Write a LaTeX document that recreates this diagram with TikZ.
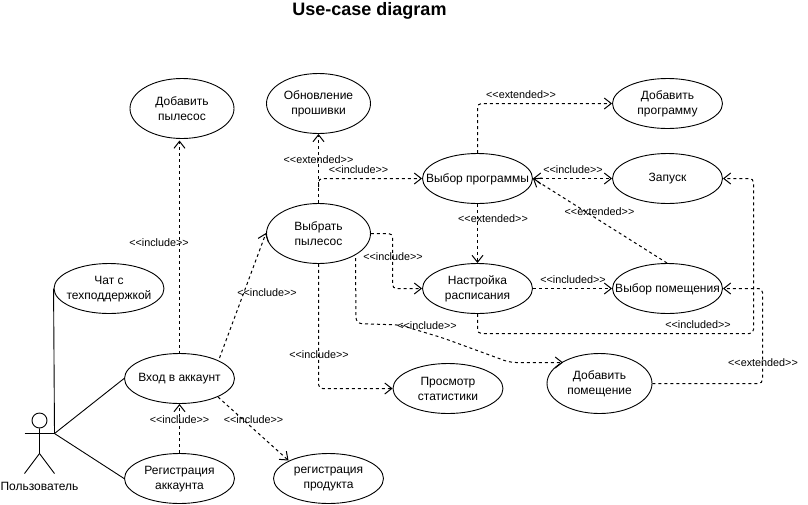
\documentclass[tikz,border=0pt]{standalone}
\usepackage{fontspec}
\setmainfont{Liberation Sans}
\usetikzlibrary{arrows.meta,shapes.geometric}
\tikzset{
  usecase/.style={draw,ellipse,inner sep=0pt,line width=0.9pt},
  uctext/.style={inner sep=0pt,align=center,font=\fontsize{12}{15}\selectfont,yshift=-0.5pt},
  dep/.style={draw,dash pattern=on 3pt off 3pt,line width=1pt,rounded corners=4pt,-{Straight Barb[length=7pt,width=11pt]}},
  depboth/.style={dep,{Straight Barb[length=7pt,width=11pt]}-{Straight Barb[length=7pt,width=11pt]}},
  assoc/.style={draw,line width=0.9pt},
  lbl/.style={font=\fontsize{10.8}{12}\selectfont,inner sep=0pt,yshift=-0.7pt},
}
\newcommand{\uc}[6]{%
  \node[usecase,minimum width=#4pt,minimum height=#5pt] (#1) at (#2,#3) {};
  \node[uctext] (#1t) at (#2,#3) {#6};}
\newcommand{\inc}{<{}<include>{}>}
\newcommand{\ext}{<{}<extended>{}>}
\newcommand{\incd}{<{}<included>{}>}
\begin{document}
\begin{tikzpicture}[x=1pt,y=-1pt]
\useasboundingbox (0,0) rectangle (808,504);
\fill[white] (0,0) rectangle (808,504);
\node[font=\fontsize{18}{20}\selectfont\bfseries] (title) at (369.5,11) {Use-case diagram};
\uc{add}{182}{108.5}{104}{60}{Добавить\\пылесос}
\uc{fw}{318.5}{103.5}{104}{60}{Обновление\\прошивки}
\uc{sel}{318.5}{233.5}{104}{60}{Выбрать\\пылесос}
\uc{prog}{477.5}{178.5}{110}{50}{Выбор программы}
\uc{sched}{477.5}{288.5}{110}{50}{Настройка\\расписания}
\uc{addp}{667.5}{103.5}{110}{50}{Добавить\\программу}
\uc{run}{667.5}{178.5}{110}{50}{Запуск}
\uc{room}{667.5}{288.5}{110}{50}{Выбор помещения}
\uc{addr}{599.5}{383.5}{105}{60}{Добавить\\помещение}
\uc{stat}{448}{388.5}{110}{50}{Просмотр\\статистики}
\uc{chat}{109}{288.5}{110}{50}{Чат с\\техподдержкой}
\uc{login}{179.5}{378.5}{110}{50}{Вход в аккаунт}
\uc{reg}{179.5}{478.5}{110}{50}{Регистрация\\аккаунта}
\uc{prod}{328.5}{478.5}{110}{50}{регистрация\\продукта}
% actor
\node[draw,circle,line width=0.9pt,minimum size=15pt,inner sep=0pt] (head) at (39.5,420.5) {};
\coordinate (hand) at (54.5,433.5);
\coordinate (lhand) at (24.5,433.5);
\coordinate (hip) at (39.5,453.5);
\coordinate (lfoot) at (24.5,473.5);
\coordinate (rfoot) at (54.5,473.5);
\draw[assoc] (head.south) -- (hip) -- (lfoot);
\draw[assoc] (hip) -- (rfoot);
\draw[assoc] (lhand) -- (hand);
\node[font=\fontsize{12}{14}\selectfont,inner sep=0pt] (actor) at (39.5,486.5) {Пользователь};
\draw[assoc] (hand) -- (chat.west);
\draw[assoc] (hand) -- (login.west);
\draw[assoc] (hand) -- (reg.west);
% anchors
\coordinate (a1) at (179.5,353.5);
\coordinate (a1t) at (179.5,140.5);
\coordinate (a2) at (219.5,358);
\coordinate (a2t) at (266,233);
\coordinate (a3) at (218,397);
\coordinate (a3t) at (288.5,460.5);
\coordinate (a4) at (318.5,187);
\coordinate (a5) at (318.5,178.5);
\coordinate (a6) at (392.5,233.5);
\coordinate (a7) at (392.5,288.5);
\coordinate (a8) at (318.5,388.5);
\coordinate (b1) at (355.5,258);
\coordinate (b2) at (356,323.5);
\coordinate (b3) at (400,325);
\coordinate (b4) at (443,338);
\coordinate (b5) at (510,362.5);
\coordinate (b6) at (563,362.5);
\coordinate (c1) at (477.5,103.5);
\coordinate (c2) at (667,263);
\coordinate (c3) at (477.5,333.5);
\coordinate (c4) at (753.5,333.5);
\coordinate (c5) at (753.5,178.5);
\coordinate (c6) at (762.5,383.5);
\coordinate (c7) at (762.5,288.5);
% dependencies
\draw[dep] (a1) -- (a1t);
\draw[dep] (a2) -- (a2t);
\draw[dep] (a3) -- (a3t);
\draw[dep] (reg.north) -- (login.south);
\draw[dep] (sel.north) -- (fw.south);
\draw[dep] (a4) -- (a5) -- (prog.west);
\draw[dep] (sel.east) -- (a6) -- (a7) -- (sched.west);
\draw[dep] (sel.south) -- (a8) -- (stat.west);
\draw[dep,rounded corners=6pt] (b1) -- (b2) -- (b3) -- (b4) -- (b5) -- (b6);
\draw[dep] (prog.north) -- (c1) -- (addp.west);
\draw[depboth] (prog.east) -- (run.west);
\draw[dep] (prog.south) -- (sched.north);
\draw[dep] (sched.east) -- (room.west);
\draw[dep] (c2) -- (prog.east);
\draw[dep] (sched.south) -- (c3) -- (c4) -- (c5) -- (run.east);
\draw[dep] (addr.east) -- (c6) -- (c7) -- (room.east);
% labels
\node[lbl] (l1) at (159,242) {\inc};
\node[lbl] (l2) at (267,292) {\inc};
\node[lbl] (l3) at (179.5,419) {\inc};
\node[lbl] (l4) at (253.5,419) {\inc};
\node[lbl] (l5) at (318.5,159) {\ext};
\node[lbl] (l6) at (358.5,169) {\inc};
\node[lbl] (l7) at (393,256) {\inc};
\node[lbl] (l8) at (319,354) {\inc};
\node[lbl] (l9) at (427,325) {\inc};
\node[lbl] (l10) at (521,94) {\ext};
\node[lbl] (l11) at (573,169) {\inc};
\node[lbl] (l12) at (493,218) {\ext};
\node[lbl] (l13) at (599.5,211) {\ext};
\node[lbl] (l14) at (573,279) {\incd};
\node[lbl] (l15) at (698,324) {\incd};
\node[lbl] (l16) at (763,362) {\ext};
\end{tikzpicture}
\end{document}
